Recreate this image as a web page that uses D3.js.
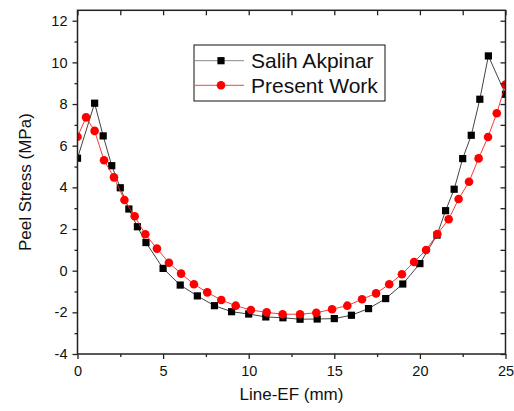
<!DOCTYPE html>
<html>
<head>
<meta charset="utf-8">
<script src="https://cdn.jsdelivr.net/npm/d3@7"></script>
<style>
  html, body { margin: 0; padding: 0; background: #fff; }
  svg { display: block; }
  text { font-family: "Liberation Sans", Arial, sans-serif; fill: #111; }
</style>
</head>
<body>
<script>
// ---- data ----
const akpinarX = [0,1,1.5,2,2.5,3,3.5,4,5,6,7,8,9,10,11,12,13,14,15,16,17,18,19,20,21,21.5,22,22.5,23,23.5,24,25];
const akpinarY = [5.40,8.04,6.47,5.04,3.98,2.96,2.11,1.35,0.11,-0.69,-1.21,-1.68,-1.97,-2.08,-2.22,-2.26,-2.33,-2.32,-2.30,-2.14,-1.82,-1.34,-0.64,0.34,1.71,2.88,3.91,5.38,6.50,8.23,10.31,8.47];
const presentX = [0,0.5,1,1.55,2.13,2.74,3.34,3.96,4.64,5.34,6.05,6.8,7.58,8.4,9.24,10.13,11.05,11.98,13,13.95,14.87,15.76,16.62,17.44,18.21,18.95,19.66,20.36,21.02,21.68,22.26,22.87,23.43,23.98,24.49,25];
const presentY = [6.43,7.36,6.71,5.30,4.48,3.39,2.61,1.75,1.06,0.38,-0.14,-0.65,-1.04,-1.41,-1.68,-1.89,-2.0,-2.09,-2.09,-2.02,-1.85,-1.68,-1.37,-1.09,-0.65,-0.17,0.42,0.99,1.76,2.47,3.44,4.27,5.39,6.42,7.56,8.93];
const seriesNames = ["Salih Akpinar", "Present Work"];
const xTicks = [0,5,10,15,20,25];
const xMinorTicks = [2.5,7.5,12.5,17.5,22.5];
const yTicks = [-4,-2,0,2,4,6,8,10,12];
const yMinorTicks = [-3,-1,1,3,5,7,9,11];
const xTitle = "Line-EF (mm)";
const yTitle = "Peel Stress (MPa)";

// ---- layout ----
const W = 514, H = 411;
const mLeft = 77.5, mRight = 505.5, mTop = 10.3, mBottom = 354;

const svg = d3.select("body").append("svg").attr("width", W).attr("height", H);

const x = d3.scaleLinear().domain([0, 25]).range([mLeft, mRight]);
const y = d3.scaleLinear().domain([-4, 12.5]).range([mBottom, mTop]);

svg.append("defs").append("clipPath").attr("id", "clip")
  .append("rect").attr("x", mLeft).attr("y", mTop).attr("width", mRight - mLeft).attr("height", mBottom - mTop);

const plot = svg.append("g").attr("clip-path", "url(#clip)");

function drawSeries(xs, ys, lineColor, lineWidth, symbol) {
  const pts = xs.map((v, i) => [v, ys[i]]);
  plot.append("path")
    .attr("d", d3.line().x(d => x(d[0])).y(d => y(d[1]))(pts))
    .attr("fill", "none").attr("stroke", lineColor).attr("stroke-width", lineWidth);
  const g = plot.append("g");
  pts.forEach(d => symbol(g, x(d[0]), y(d[1])));
}

const square = (g, cx, cy) => g.append("rect").attr("x", cx - 3.6).attr("y", cy - 3.6)
  .attr("width", 7.2).attr("height", 7.2).attr("fill", "#000");
const circle = (g, cx, cy) => g.append("circle").attr("cx", cx).attr("cy", cy).attr("r", 4.3)
  .attr("fill", "#ff0000");

drawSeries(akpinarX, akpinarY, "#444", 1, square);
drawSeries(presentX, presentY, "#ff2020", 0.9, circle);

// ---- axes ----
const axisColor = "#222";
const axW = 1.5;
const axG = svg.append("g");

const bottomAxis = axG.append("g").attr("transform", `translate(0,${mBottom})`)
  .call(d3.axisBottom(x).tickValues(xTicks).tickSize(5).tickPadding(7).tickFormat(d3.format("d")));
axG.append("g").attr("transform", `translate(0,${mBottom})`)
  .call(d3.axisBottom(x).tickValues(xMinorTicks).tickSize(3).tickFormat(""));
const leftAxis = axG.append("g").attr("transform", `translate(${mLeft},0)`)
  .call(d3.axisLeft(y).tickValues(yTicks).tickSize(5).tickPadding(5).tickFormat(d => d < 0 ? "-" + Math.abs(d) : String(d)));
axG.append("g").attr("transform", `translate(${mLeft},0)`)
  .call(d3.axisLeft(y).tickValues(yMinorTicks).tickSize(3).tickFormat(""));
axG.append("g").attr("transform", `translate(0,${mTop})`)
  .call(d3.axisTop(x).tickValues(xTicks.concat(xMinorTicks)).tickSize(-5).tickFormat(""));
axG.append("g").attr("transform", `translate(${mRight},0)`)
  .call(d3.axisRight(y).tickValues(yTicks.concat(yMinorTicks)).tickSize(-5).tickFormat(""));

axG.selectAll(".domain").remove();
axG.selectAll(".tick line").attr("stroke", axisColor).attr("stroke-width", 1.3);
axG.selectAll(".tick text").attr("font-size", "14.5px").attr("fill", "#111")
  .style("font-family", "'Liberation Sans', Arial, sans-serif");

axG.append("rect").attr("x", mLeft).attr("y", mTop).attr("width", mRight - mLeft).attr("height", mBottom - mTop)
  .attr("fill", "none").attr("stroke", axisColor).attr("stroke-width", axW);

// titles
svg.append("text").attr("x", (mLeft + mRight) / 2).attr("y", 400).attr("text-anchor", "middle")
  .attr("font-size", "17px").text(xTitle);
svg.append("text").attr("transform", `translate(30.5,${(mTop + mBottom) / 2}) rotate(-90)`)
  .attr("text-anchor", "middle").attr("font-size", "17px").text(yTitle);

// legend
const lg = svg.append("g");
lg.append("rect").attr("x", 194).attr("y", 45).attr("width", 191).attr("height", 56)
  .attr("fill", "#fff").attr("stroke", "#111").attr("stroke-width", 1);
const legendRows = [
  { name: seriesNames[0], color: "#888", sym: square, yy: 60.7 },
  { name: seriesNames[1], color: "#ff4040", sym: circle, yy: 85.3 }
];
legendRows.forEach(r => {
  lg.append("line").attr("x1", 195).attr("x2", 244).attr("y1", r.yy).attr("y2", r.yy)
    .attr("stroke", r.color).attr("stroke-width", 1);
  r.sym(lg, 221, r.yy);
  lg.append("text").attr("x", 251).attr("y", r.yy + 7.5).attr("font-size", "21px").text(r.name);
});
</script>
</body>
</html>
